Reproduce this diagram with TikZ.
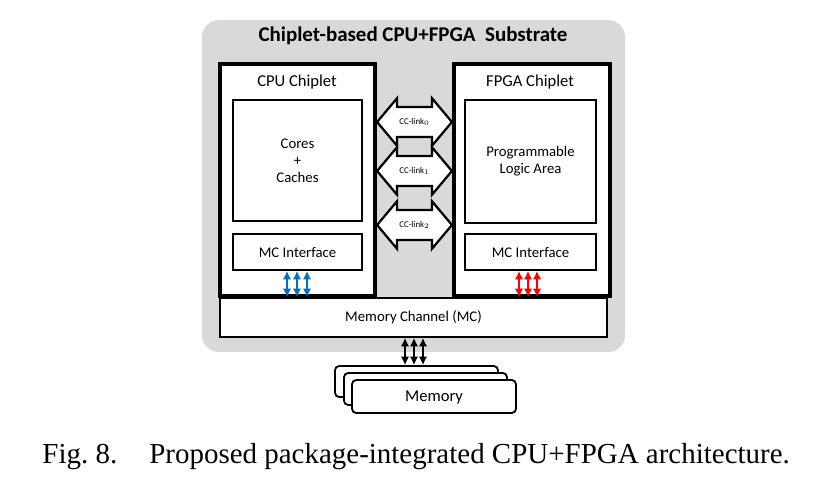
\documentclass[tikz,border=0pt]{standalone}
\usepackage{fontspec}
\setmainfont{Carlito}
\newfontfamily\capfont{Liberation Serif}
\usepackage{xcolor}
\usepackage{tikz}
\usetikzlibrary{arrows.meta,shapes.arrows}
\definecolor{subgray}{RGB}{217,217,217}
\definecolor{mcblue}{RGB}{0,112,192}
\tikzset{
  box/.style = {align=center, inner sep=0pt, text centered, draw=black, fill=white},
  box_chip/.style = {box, line width=2.6pt},% chiplet
  box_in/.style = {box, line width=1.3pt},% inner block
  box_mem/.style = {box, line width=1.3pt, rounded corners=3pt},% memory module
  chip_title/.style = {font=\fontsize{11.8}{13}\selectfont},% chiplet name
  cclink/.style = {double arrow, draw=black, fill=white, line width=1.6pt, font=\fontsize{6.3}{7}\selectfont,
    minimum height=1.87cm, minimum width=1.12cm, inner ysep=0.25cm, inner xsep=0pt,
    double arrow head extend=0.22cm, double arrow tip angle=100},% CC-link
  arr/.style = {{Latex[length=6pt,width=6pt]}-{Latex[length=6pt,width=6pt]}, line width=1.4pt}% short vertical link
}
\begin{document}
\begin{tikzpicture}[x=0.025cm, y=-0.025cm, font=\fontsize{10.5}{12}\selectfont]
\useasboundingbox (0,0) rectangle (816,478);
% substrate
\node [box, draw=none, fill=subgray, rounded corners=12pt, minimum width=423*0.025cm, minimum height=332*0.025cm] (sub) at (413.5,186) {};
\node [font=\fontsize{14.9}{16}\selectfont\bfseries] (subtitle) at (413,36) {Chiplet-based CPU+FPGA\ \ Substrate};
% chiplets
\node [box_chip, minimum width=155*0.025cm, minimum height=232*0.025cm] (cpu) at (297.5,180) {};
\node [chip_title] (cputitle) at (297,82) {CPU Chiplet};
\node [box_in, minimum width=129*0.025cm, minimum height=121*0.025cm] (cores) at (297.5,160.5) {Cores\\+\\Caches};
\node [box_in, minimum width=129*0.025cm, minimum height=36*0.025cm] (cpumc) at (297.5,252) {MC Interface};
\node [box_chip, minimum width=156*0.025cm, minimum height=232*0.025cm] (fpga) at (532,180) {};
\node [chip_title] (fpgatitle) at (530,82) {FPGA Chiplet};
\node [box_in, minimum width=131*0.025cm, minimum height=123*0.025cm] (pla) at (530.5,161.5) {Programmable\\Logic Area};
\node [box_in, minimum width=131*0.025cm, minimum height=36*0.025cm] (fpgamc) at (530.5,252) {MC Interface};
% cc-links
\node [cclink] (link0) at (414.5,122) {CC-link$_0$};
\node [cclink] (link1) at (414.5,171) {CC-link$_1$};
\node [cclink] (link2) at (414.5,225) {CC-link$_2$};
% memory channel
\node [box_in, minimum width=387*0.025cm, minimum height=39*0.025cm] (mc) at (413.5,317.5) {Memory Channel (MC)};
% memory modules
\node [box_mem, minimum width=163*0.025cm, minimum height=31*0.025cm] (mem2) at (416.5,381.5) {};
\node [box_mem, minimum width=163*0.025cm, minimum height=32*0.025cm] (mem1) at (425.5,389) {};
\node [box_mem, minimum width=164*0.025cm, minimum height=33*0.025cm, font=\fontsize{11.8}{13}\selectfont, text depth=1pt] (mem0) at (434,396.5) {Memory};
% links to memory channel
\foreach \dx in {-10.5,-0.5,9.5}
  \draw [arr, mcblue] ([xshift=\dx*0.025cm]cpumc.south) -- ([xshift=\dx*0.025cm]cpumc.south |- mc.north);
\foreach \dx in {-11.5,-2.5,6.5}
  \draw [arr, red] ([xshift=\dx*0.025cm]fpgamc.south) -- ([xshift=\dx*0.025cm]fpgamc.south |- mc.north);
\foreach \dx in {-8.5,0.5,9.5}
  \draw [arr, black] ([xshift=\dx*0.025cm]mc.south) -- ([xshift=\dx*0.025cm]mc.south |- mem2.north);
% caption
\node [font=\capfont\fontsize{20.6}{22}\selectfont, anchor=west] (cap) at (37.5,457) {Fig.~8.\hspace{0.8cm}Proposed package-integrated CPU+FPGA architecture.};
\end{tikzpicture}
\end{document}
